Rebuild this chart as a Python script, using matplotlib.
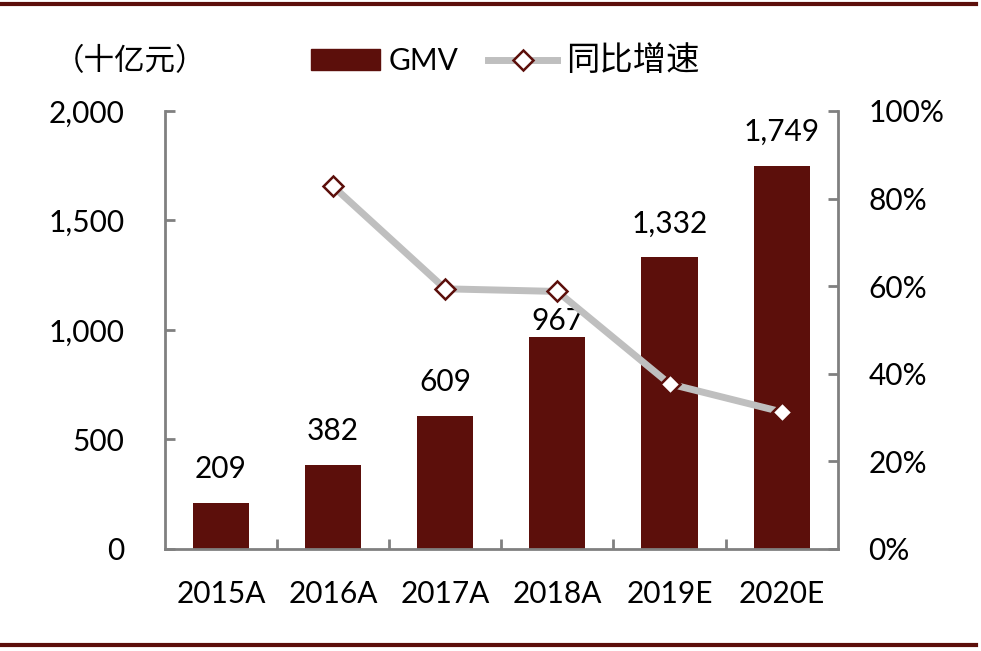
import matplotlib.pyplot as plt
from matplotlib.ticker import FuncFormatter, PercentFormatter
from matplotlib.lines import Line2D
from matplotlib.patches import Patch

plt.rcParams['font.family'] = ['Lato', 'Noto Sans CJK SC', 'DejaVu Sans']

# data
years = ["2015A", "2016A", "2017A", "2018A", "2019E", "2020E"]
gmv = [209, 382, 609, 967, 1332, 1749]
growth = [None, 82.8, 59.4, 58.8, 37.7, 31.3]

bar_color = "#5C0F0B"
axis_color = "#808080"
fs = 21.5

fig = plt.figure(figsize=(9.81, 6.51), dpi=100)
ax = fig.add_axes([0.168, 0.1567, 0.686, 0.6728])
ax2 = ax.twinx()

x = list(range(len(years)))
ax.bar(x, gmv, width=0.5, color=bar_color, zorder=2)
for xi, v in zip(x, gmv):
    # the 2018 label sits lower, tucked under the line
    lift = 5 if xi == 3 else 18
    ax.annotate(f"{v:,}", (xi, v), xytext=(0, lift), textcoords="offset points",
                ha="center", va="baseline", fontsize=fs)

gx = [xi for xi, g in zip(x, growth) if g is not None]
gy = [g for g in growth if g is not None]
ax2.plot(gx, gy, color="#BFBFBF", lw=5, marker="D", ms=10,
         mfc="white", mec=bar_color, mew=1.8, zorder=3)

ax.set_xlim(-0.5, len(years) - 0.5)
ax.set_ylim(0, 2000)
ax2.set_ylim(0, 100)
ax.set_yticks(range(0, 2001, 500))
ax2.set_yticks(range(0, 101, 20))
ax.yaxis.set_major_formatter(FuncFormatter(lambda v, p: f"{int(v):,}"))
ax2.yaxis.set_major_formatter(PercentFormatter(decimals=0))

ax.set_xticks([xi + 0.5 for xi in x[:-1]])
ax.set_xticklabels([])
ax.set_xticks(x, minor=True)
ax.set_xticklabels(years, minor=True)
ax.tick_params(axis="x", which="minor", length=0, pad=22, labelsize=fs)
ax.tick_params(axis="x", which="major", direction="in", length=7,
               width=2, color=axis_color)
ax.tick_params(axis="y", direction="in", length=7, width=2,
               color=axis_color, labelsize=fs, pad=29)
ax2.tick_params(axis="y", direction="in", length=7, width=2,
                color=axis_color, labelsize=fs, pad=22)

for a in (ax, ax2):
    a.spines["top"].set_visible(False)
    for s in ("left", "right", "bottom"):
        a.spines[s].set_color(axis_color)
        a.spines[s].set_linewidth(2)
ax.spines["right"].set_visible(False)
ax2.spines["left"].set_visible(False)
ax2.spines["bottom"].set_visible(False)

fig.text(0.055, 0.907, "（十亿元）", fontsize=22, va="center", ha="left")

handles = [Patch(color=bar_color, label="GMV"),
           Line2D([], [], color="#BFBFBF", lw=5, marker="D", ms=10,
                  mfc="white", mec=bar_color, mew=1.8, label="同比增速")]
leg = fig.legend(handles=handles, loc="center", bbox_to_anchor=(0.515, 0.907),
                 ncol=2, frameon=False, fontsize=fs, handlelength=2.3,
                 columnspacing=1.0, handletextpad=0.3)
leg.get_texts()[1].set_fontsize(24)

fig.add_artist(Line2D([0, 0.995], [0.994, 0.994], color=bar_color, lw=3))
fig.add_artist(Line2D([0, 0.995], [0.009, 0.009], color=bar_color, lw=3))

fig.savefig("out.png", dpi=100)
